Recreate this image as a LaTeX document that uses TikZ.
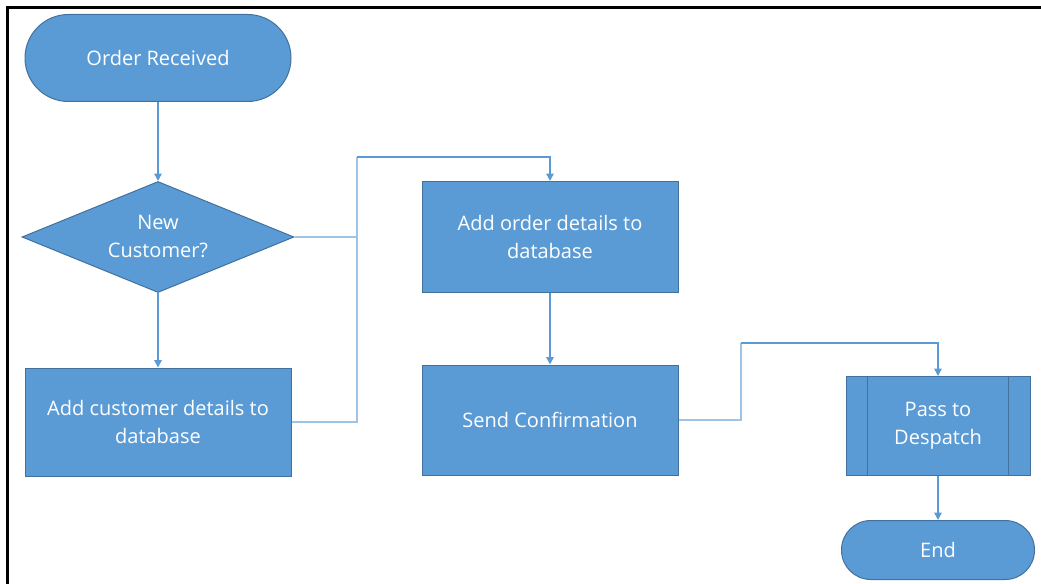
\documentclass[tikz,border=0pt]{standalone}
\usepackage{fontspec}
\setmainfont{Open Sans}
\usetikzlibrary{shapes.geometric,arrows.meta}

\definecolor{boxblue}{HTML}{5B9BD5}
\definecolor{boxedge}{HTML}{41719C}
\definecolor{lineblue}{HTML}{5B9BD5}
\definecolor{linelight}{HTML}{9DC3E6}

\tikzset{
  base/.style={draw=boxedge, line width=0.75pt, fill=boxblue, text=white,
    font=\fontsize{15}{21}\selectfont, align=center, inner sep=0pt},
  terminal/.style={base, rectangle, rounded corners=#1},
  process/.style={base, rectangle},
  decision/.style={base, diamond, aspect=2.45},
  link/.style={draw=lineblue, line width=1.1pt, -{Triangle[length=5.5pt,width=5.5pt]}},
  feed/.style={draw=linelight, line width=1.1pt}
}

\begin{document}
\begin{tikzpicture}[x=0.75pt, y=-0.75pt]
  \useasboundingbox (0,0) rectangle (1041,584);
  % frame
  \draw[line width=2.25pt] (7.5,584) -- (7.5,7.5) -- (1041,7.5);

  % left column
  \node[terminal=32.6pt, minimum width=199.5pt, minimum height=65.25pt] (start) at (158,58) {Order Received};
  \node[decision, minimum width=204pt, minimum height=83.25pt] (ask) at (158,237) {New\\Customer?};
  \node[process, minimum width=199.5pt, minimum height=81pt] (cust) at (158,422) {Add customer details to\\database};

  % middle column
  \node[process, minimum width=192pt, minimum height=83.25pt] (order) at (550,237) {Add order details to\\database};
  \node[process, minimum width=192pt, minimum height=82.5pt] (confirm) at (550,420) {Send Confirmation};

  % right column
  \node[process, minimum width=138pt, minimum height=74.25pt] (despatch) at (938,426) {Pass to\\Despatch};
  \foreach \side/\dx in {west/16.5pt, east/-16.5pt}
    \draw[boxedge, line width=0.75pt] ([xshift=\dx]despatch.north \side) -- ([xshift=\dx]despatch.south \side);
  \node[terminal=22pt, minimum width=144.75pt, minimum height=44.25pt] (finish) at (938,550) {End};

  % connectors
  \coordinate (merge) at (357,157);
  \coordinate (bend) at (741,343);
  \draw[link] (start) -- (ask);
  \draw[link] (ask) -- (cust);
  \draw[feed] (ask.east) -| (merge);
  \draw[feed] (cust.east) -| (merge);
  \draw[link] (merge) -| (order.north);
  \draw[link] (order) -- (confirm);
  \draw[feed] (confirm.east) -| (bend);
  \draw[link] (bend) -| (despatch.north);
  \draw[link] (despatch) -- (finish);
\end{tikzpicture}
\end{document}
